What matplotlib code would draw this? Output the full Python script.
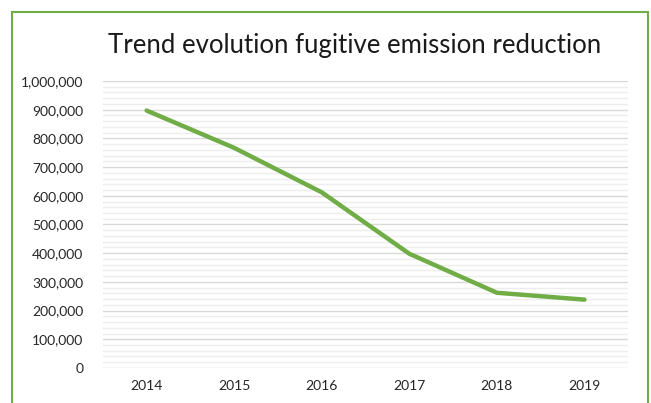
import matplotlib.pyplot as plt
from matplotlib.patches import Rectangle
from matplotlib.ticker import FuncFormatter, MultipleLocator

# data
years = ["2014", "2015", "2016", "2017", "2018", "2019"]
emissions = [897000, 767000, 612000, 398000, 262000, 238000]

GREEN = "#70AD47"

plt.rcParams["font.family"] = ["Lato", "DejaVu Sans"]

fig = plt.figure(figsize=(6.51, 4.03), dpi=100)
ax = fig.add_axes([0.158, 0.087, 0.807, 0.712])

x = range(len(years))
ax.plot(x, emissions, color=GREEN, linewidth=3.2, solid_capstyle="round")

ax.set_xlim(-0.5, len(years) - 0.5)
ax.set_ylim(0, 1000000)
ax.set_xticks(list(x))
ax.set_xticklabels(years)
ax.yaxis.set_major_locator(MultipleLocator(100000))
ax.yaxis.set_minor_locator(MultipleLocator(20000))
ax.yaxis.set_major_formatter(FuncFormatter(lambda v, _: f"{v:,.0f}"))

ax.grid(which="major", axis="y", color="#D9D9D9", linewidth=1.0)
ax.grid(which="minor", axis="y", color="#EDEDED", linewidth=1.0)
ax.set_axisbelow(True)
for s in ax.spines.values():
    s.set_visible(False)
ax.tick_params(which="both", length=0, labelsize=10, colors="#262626")
ax.tick_params(axis="x", pad=9)
ax.tick_params(axis="y", pad=14)

fig.text(0.545, 0.888, "Trend evolution fugitive emission reduction",
         ha="center", va="center", fontsize=18.5, color="#1a1a1a")

# green chart-area border (bottom edge falls outside the image)
fig.patches.append(Rectangle((12 / 651, -0.05), (648 - 12) / 651, 1.05 - 12 / 403,
                             transform=fig.transFigure, fill=False,
                             edgecolor=GREEN, linewidth=1.5))

fig.savefig("out.png", dpi=100)
